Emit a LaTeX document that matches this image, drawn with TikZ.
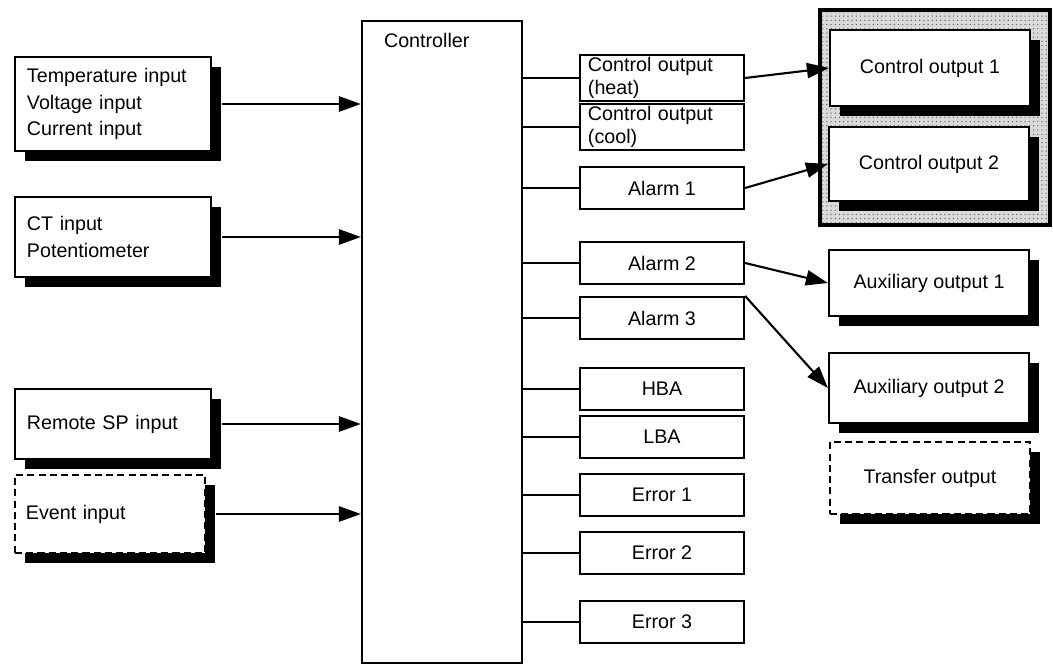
\documentclass[tikz,border=0pt]{standalone}
\usepackage{fontspec}
\setmainfont{Liberation Sans}
\usetikzlibrary{shadows,patterns,arrows.meta}
\begin{document}
\begin{tikzpicture}[
	x=0.025cm, y=-0.025cm, line width=1.5pt,
	every node/.style={font=\fontsize{14}{16}\selectfont, inner sep=0pt},
	box/.style={draw, fill=white, rectangle},
	shad/.style={box, drop shadow={shadow xshift=0.25cm, shadow yshift=-0.25cm, fill=black, opacity=1}},
	inbox/.style={shad, minimum width=4.9cm, text width=4.3cm, align=left},
	outbox/.style={box, minimum width=4.1cm, minimum height=1.05cm, align=center},
	bigout/.style={shad, minimum width=5cm},
	dashbox/.style={dash pattern=on 5pt off 3pt},
	arr/.style={-{Triangle[length=0.55cm,width=0.38cm]}},
	lnk/.style={-}
	]
	\useasboundingbox (0,0) rectangle (1053,670);
	% gray frame behind control outputs
	\fill[gray!30] (820,10) rectangle (1050,225);
	\fill[pattern=dots, pattern color=black!60] (820,10) rectangle (1050,225);
	\draw[line width=2.5pt] (820,10) rectangle (1050,225);

	% inputs
	\node[inbox, minimum height=2.35cm] (temp) at (113,104) {Temperature input\\[3pt]Voltage input\\[3pt]Current input};
	\node[inbox, minimum height=2cm] (ct) at (113,237) {CT input\\[3pt]Potentiometer};
	\node[inbox, minimum height=1.75cm] (rsp) at (113,424) {Remote SP input};
	\node[inbox, dashbox, minimum height=1.95cm, minimum width=4.75cm, text width=4.2cm] (ev) at (110,514) {Event input};

	% controller
	\node[box, minimum width=4cm, minimum height=16.05cm] (ctl) at (442,342) {};
	\node[anchor=north west] (ctltxt) at (383,32) {Controller};

	% controller outputs
	\node[outbox, minimum height=1.15cm, text width=3.7cm, align=left] (heat) at (662,78) {Control output\\(heat)};
	\node[outbox, minimum height=1.15cm, text width=3.7cm, align=left] (cool) at (662,127) {Control output\\(cool)};
	\foreach \n/\t/\yy in {al1/Alarm 1/188, al2/Alarm 2/263, al3/Alarm 3/318,
		hba/HBA/389, lba/LBA/437, er1/Error 1/495, er2/Error 2/553, er3/Error 3/622}
		\node[outbox] (\n) at (662,\yy) {\t};

	% external outputs
	\node[bigout, minimum height=1.9cm] (co1) at (930,68) {Control output 1};
	\node[bigout, minimum height=1.85cm] (co2) at (929,164) {Control output 2};
	\node[bigout, minimum height=1.65cm] (aux1) at (929,283) {Auxiliary output 1};
	\node[bigout, minimum height=1.75cm] (aux2) at (929,388) {Auxiliary output 2};
	\node[bigout, dashbox, minimum height=1.8cm] (tr) at (930,478) {Transfer output};

	% connectors
	\foreach \a in {temp,ct,rsp,ev}
		\draw[arr] ([xshift=0.25cm]\a.east) -- (\a.east -| ctl.west);
	\foreach \b in {heat,cool,al1,al2,al3,hba,lba,er1,er2,er3}
		\draw[lnk] (\b.west -| ctl.east) -- (\b.west);
	\draw[arr] (heat.east) -- (co1.west);
	\draw[arr] (al1.east) -- (co2.west);
	\draw[arr] (al2.east) -- (aux1.west);
	\draw[arr] (al3.north east) -- (aux2.west);
\end{tikzpicture}
\end{document}
